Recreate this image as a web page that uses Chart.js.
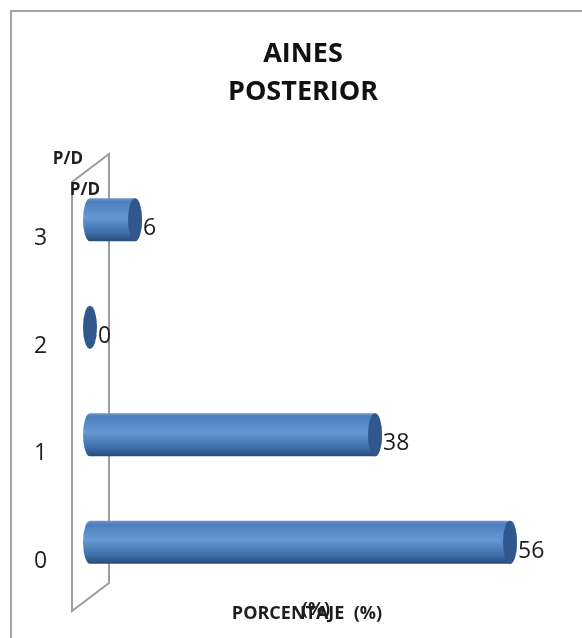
<!DOCTYPE html>
<html>
<head>
<meta charset="utf-8">
<script src="https://cdn.jsdelivr.net/npm/chart.js@4.4.1/dist/chart.umd.min.js"></script>
<style>
  html, body { margin: 0; padding: 0; background: #fff; }
  #wrap { width: 582px; height: 638px; }
</style>
</head>
<body>
<div id="wrap"><canvas id="chart" width="582" height="638"></canvas></div>
<script>
const titleLines = ['AINES', 'POSTERIOR'];
const categories = ['3', '2', '1', '0'];
const porcentaje = [6, 0, 38, 56];
const yTitle = 'P/D';
const xTitle = 'PORCENTAJE  (%)';
const xTitleExtra = '(%)';

// cylinders, the back wall and the loose axis titles are drawn by hand
const cylinderPlugin = {
    id: 'cylinders',
    beforeDraw(chart) {
        const ctx = chart.ctx;
        ctx.save();
        ctx.strokeStyle = '#a3a3a3';
        ctx.lineWidth = 2;
        ctx.beginPath();
        ctx.moveTo(11, chart.height);
        ctx.lineTo(11, 11);
        ctx.lineTo(chart.width, 11);
        ctx.stroke();
        ctx.restore();
    },
    beforeDatasetsDraw(chart) {
        const ctx = chart.ctx;
        const a = chart.chartArea;
        ctx.save();
        ctx.strokeStyle = '#9c9c9c';
        ctx.lineWidth = 2;
        ctx.beginPath();
        ctx.moveTo(a.left - 18, a.top + 16);
        ctx.lineTo(a.left + 19, a.top - 12);
        ctx.lineTo(a.left + 19, a.bottom - 13);
        ctx.lineTo(a.left - 18, a.bottom + 15);
        ctx.closePath();
        ctx.stroke();
        ctx.restore();
    },
    afterDatasetsDraw(chart) {
        const ctx = chart.ctx;
        const a = chart.chartArea;
        const meta = chart.getDatasetMeta(0);
        ctx.save();
        meta.data.forEach((bar, i) => {
            const p = bar.getProps(['x', 'y', 'base', 'height'], true);
            const ry = p.height / 2;
            const rx = 7;
            const top = p.y - ry, bottom = p.y + ry;
            if (p.x - p.base > 1) {
                const g = ctx.createLinearGradient(0, top, 0, bottom);
                g.addColorStop(0, '#7096c8');
                g.addColorStop(0.08, '#4c7ebf');
                g.addColorStop(0.45, '#6598d4');
                g.addColorStop(0.8, '#3f6ea9');
                g.addColorStop(1, '#284b79');
                ctx.fillStyle = g;
                ctx.beginPath();
                ctx.moveTo(p.base, top);
                ctx.lineTo(p.x, top);
                ctx.ellipse(p.x, p.y, rx, ry, 0, -Math.PI / 2, Math.PI / 2);
                ctx.lineTo(p.base, bottom);
                ctx.ellipse(p.base, p.y, rx, ry, 0, Math.PI / 2, Math.PI * 1.5);
                ctx.closePath();
                ctx.fill();
            }
            ctx.fillStyle = '#30588c';
            ctx.beginPath();
            ctx.ellipse(p.x, p.y, rx, ry, 0, 0, Math.PI * 2);
            ctx.fill();

            ctx.fillStyle = '#1e1e1e';
            ctx.font = '23px "Open Sans"';
            ctx.textAlign = 'left';
            ctx.textBaseline = 'middle';
            ctx.fillText(String(porcentaje[i]), p.x + rx + 1, p.y + 9);
        });

        ctx.fillStyle = '#1e1e1e';
        ctx.font = 'bold 17px "Open Sans"';
        ctx.textAlign = 'center';
        ctx.textBaseline = 'middle';
        ctx.fillText(yTitle, a.left - 22, a.top - 7);
        ctx.fillText(yTitle, a.left - 5, a.top + 24);
        ctx.font = 'bold 18px "Open Sans"';
        ctx.fillText(xTitle, 307, a.bottom + 18);
        ctx.fillText(xTitleExtra, 316, a.bottom + 14);
        ctx.restore();
    }
};

new Chart(document.getElementById('chart'), {
    type: 'bar',
    data: {
        labels: categories,
        datasets: [{
            data: porcentaje,
            backgroundColor: 'rgba(0,0,0,0)',
            borderWidth: 0,
            barPercentage: 0.4,
            categoryPercentage: 1
        }]
    },
    options: {
        indexAxis: 'y',
        responsive: false,
        animation: false,
        layout: { padding: { left: 66, right: 42, top: 12, bottom: 42 } },
        plugins: {
            legend: { display: false },
            tooltip: { enabled: false },
            title: {
                display: true,
                text: titleLines,
                color: '#111',
                font: { family: '"Open Sans"', size: 27, weight: 'bold', lineHeight: 1.426 },
                padding: { top: 23, bottom: 54 }
            }
        },
        scales: {
            x: { display: false, min: 0, max: 60 },
            y: {
                afterFit(scale) { scale.width = 24; },
                grid: { display: false, drawTicks: false },
                border: { display: false },
                ticks: {
                    color: '#1e1e1e',
                    font: { family: '"Open Sans"', size: 23 },
                    mirror: true,
                    padding: -56,
                    labelOffset: 19
                }
            }
        }
    },
    plugins: [cylinderPlugin]
});
</script>
</body>
</html>
